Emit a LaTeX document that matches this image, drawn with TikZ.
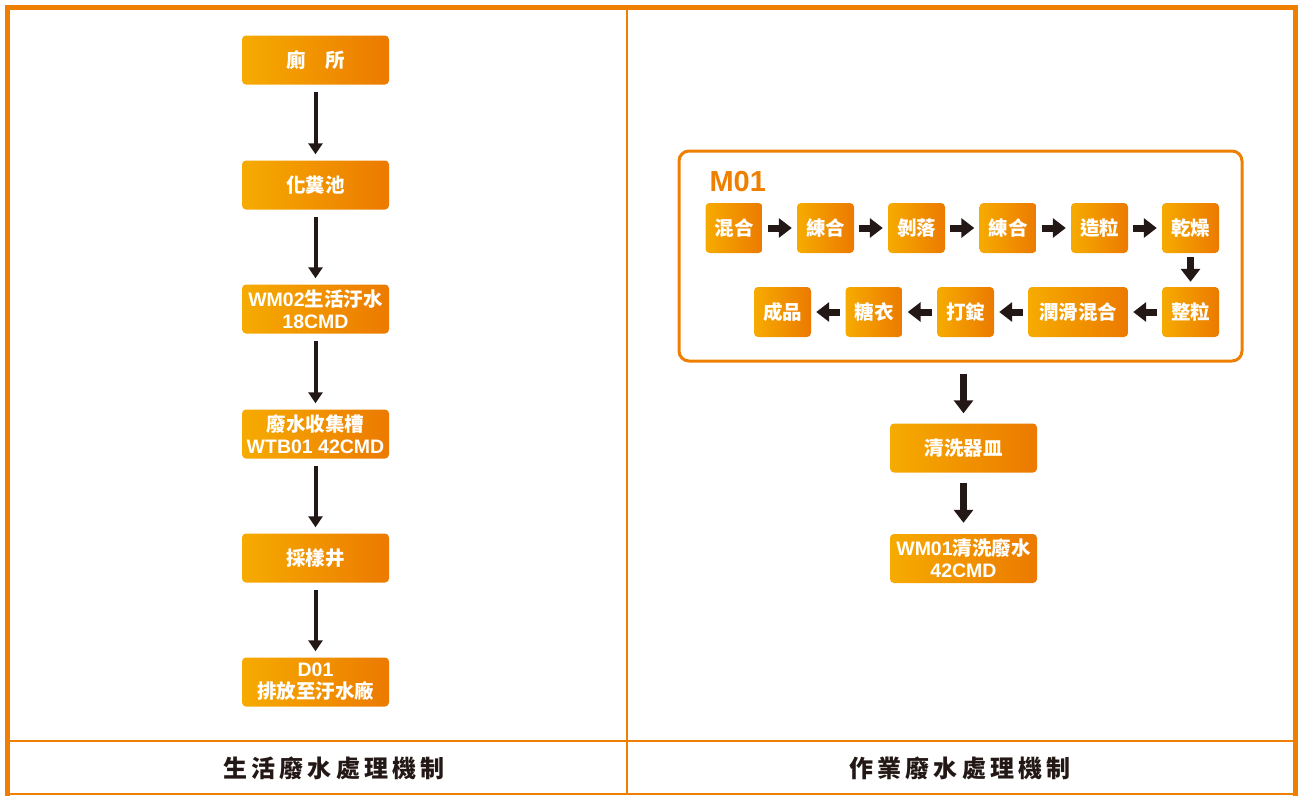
\documentclass[tikz,border=0pt]{standalone}
\usepackage{fontspec}
\setmainfont{Liberation Sans}
\newfontfamily\cjk{Noto Sans CJK TC}
\newfontfamily\cjkcap{Noto Sans CJK TC}[LetterSpace=17]
\usetikzlibrary{arrows.meta}
\definecolor{frameor}{HTML}{EE7F00}
\definecolor{boxlt}{HTML}{F6AB00}
\definecolor{boxdk}{HTML}{EC7A00}
\definecolor{ink}{HTML}{231815}
\tikzset{
  flowbox/.style={rounded corners=4pt, left color=boxlt, right color=boxdk,
    text=white, minimum width=147pt, minimum height=49pt, align=center,
    inner sep=0pt, font=\fontsize{19.5}{22}\selectfont\bfseries},
  smallbox/.style={flowbox, minimum width=57pt, minimum height=50pt},
  thinarr/.style={draw=ink, line width=4pt, -{Triangle[width=14pt,length=11pt]},
    shorten <=7pt, shorten >=6pt},
  fatarr/.style={draw=ink, line width=7pt, -{Triangle[width=19pt,length=13pt]},
    shorten <=5pt, shorten >=5pt},
  caption/.style={text=ink, font=\cjkcap\fontsize{24}{26}\selectfont\bfseries}
}
\begin{document}
\begin{tikzpicture}[x=1pt, y=-1pt]
\useasboundingbox (0,0) rectangle (1298,796);

% outer frame and dividers
\draw[frameor, line width=5pt] (7.5,796) -- (7.5,7) -- (1295.5,7) -- (1295.5,796);
\draw[frameor, line width=2pt] (7.5,793.5) -- (1295.5,793.5);
\draw[frameor, line width=2pt] (626.5,7) -- (626.5,793.5);
\draw[frameor, line width=2pt] (7.5,741) -- (1295.5,741);

% domestic wastewater chain
\node[flowbox] (toilet) at (315.5,60)  {\cjk 廁　所};
\node[flowbox] (septic) at (315.5,185) {\cjk 化糞池};
\node[flowbox] (wm02)   at (315.5,309) {WM02{\cjk 生活汙水}\\18CMD};
\node[flowbox] (wtb01)  at (315.5,434) {{\cjk 廢水收集槽}\\WTB01 42CMD};
\node[flowbox] (sample) at (315.5,558) {\cjk 採樣井};
\node[flowbox] (d01)    at (315.5,682) {D01\\{\cjk 排放至汙水廠}};

\draw[thinarr] (toilet) -- (septic);
\draw[thinarr] (septic) -- (wm02);
\draw[thinarr] (wm02) -- (wtb01);
\draw[thinarr] (wtb01) -- (sample);
\draw[thinarr] (sample) -- (d01);

% process wastewater: M01 production line
\node[draw=frameor, line width=3pt, rounded corners=10pt,
      minimum width=563pt, minimum height=210pt, inner sep=0pt] (m01) at (960.5,256) {};
\node[text=frameor, font=\fontsize{29}{30}\selectfont\bfseries, anchor=base west]
  (m01label) at (706,191) {M01};

\node[smallbox] (mix)    at (734,228)    {\cjk 混合};
\node[smallbox] (knead1) at (825.5,228)  {\cjk 練合};
\node[smallbox] (peel)   at (916.5,228)  {\cjk 剝落};
\node[smallbox] (knead2) at (1008,228)   {\cjk 練合};
\node[smallbox] (gran)   at (1099.5,228) {\cjk 造粒};
\node[smallbox] (dry)    at (1190.5,228) {\cjk 乾燥};
\node[smallbox] (size)   at (1190.5,312) {\cjk 整粒};
\node[smallbox, minimum width=100pt] (lube) at (1078,312) {\cjk 潤滑混合};
\node[smallbox] (press)  at (965.5,312)  {\cjk 打錠};
\node[smallbox] (coat)   at (874,312)    {\cjk 糖衣};
\node[smallbox] (prod)   at (782.5,312)  {\cjk 成品};

\draw[fatarr] (mix) -- (knead1);
\draw[fatarr] (knead1) -- (peel);
\draw[fatarr] (peel) -- (knead2);
\draw[fatarr] (knead2) -- (gran);
\draw[fatarr] (gran) -- (dry);
\draw[fatarr, shorten <=4pt] (dry) -- (size);
\draw[fatarr] (size) -- (lube);
\draw[fatarr] (lube) -- (press);
\draw[fatarr] (press) -- (coat);
\draw[fatarr] (coat) -- (prod);

\node[flowbox] (wash) at (963.5,448) {\cjk 清洗器皿};
\node[flowbox] (wm01) at (963.5,558.5) {WM01{\cjk 清洗廢水}\\42CMD};

\draw[fatarr, shorten <=11pt, shorten >=10pt] (m01.south -| wash) -- (wash.north);
\draw[fatarr, shorten <=10pt, shorten >=11pt] (wash) -- (wm01);

% column captions
\node[caption] (capL) at (334,768) {生活廢水處理機制};
\node[caption] (capR) at (960,768) {作業廢水處理機制};
\end{tikzpicture}
\end{document}
